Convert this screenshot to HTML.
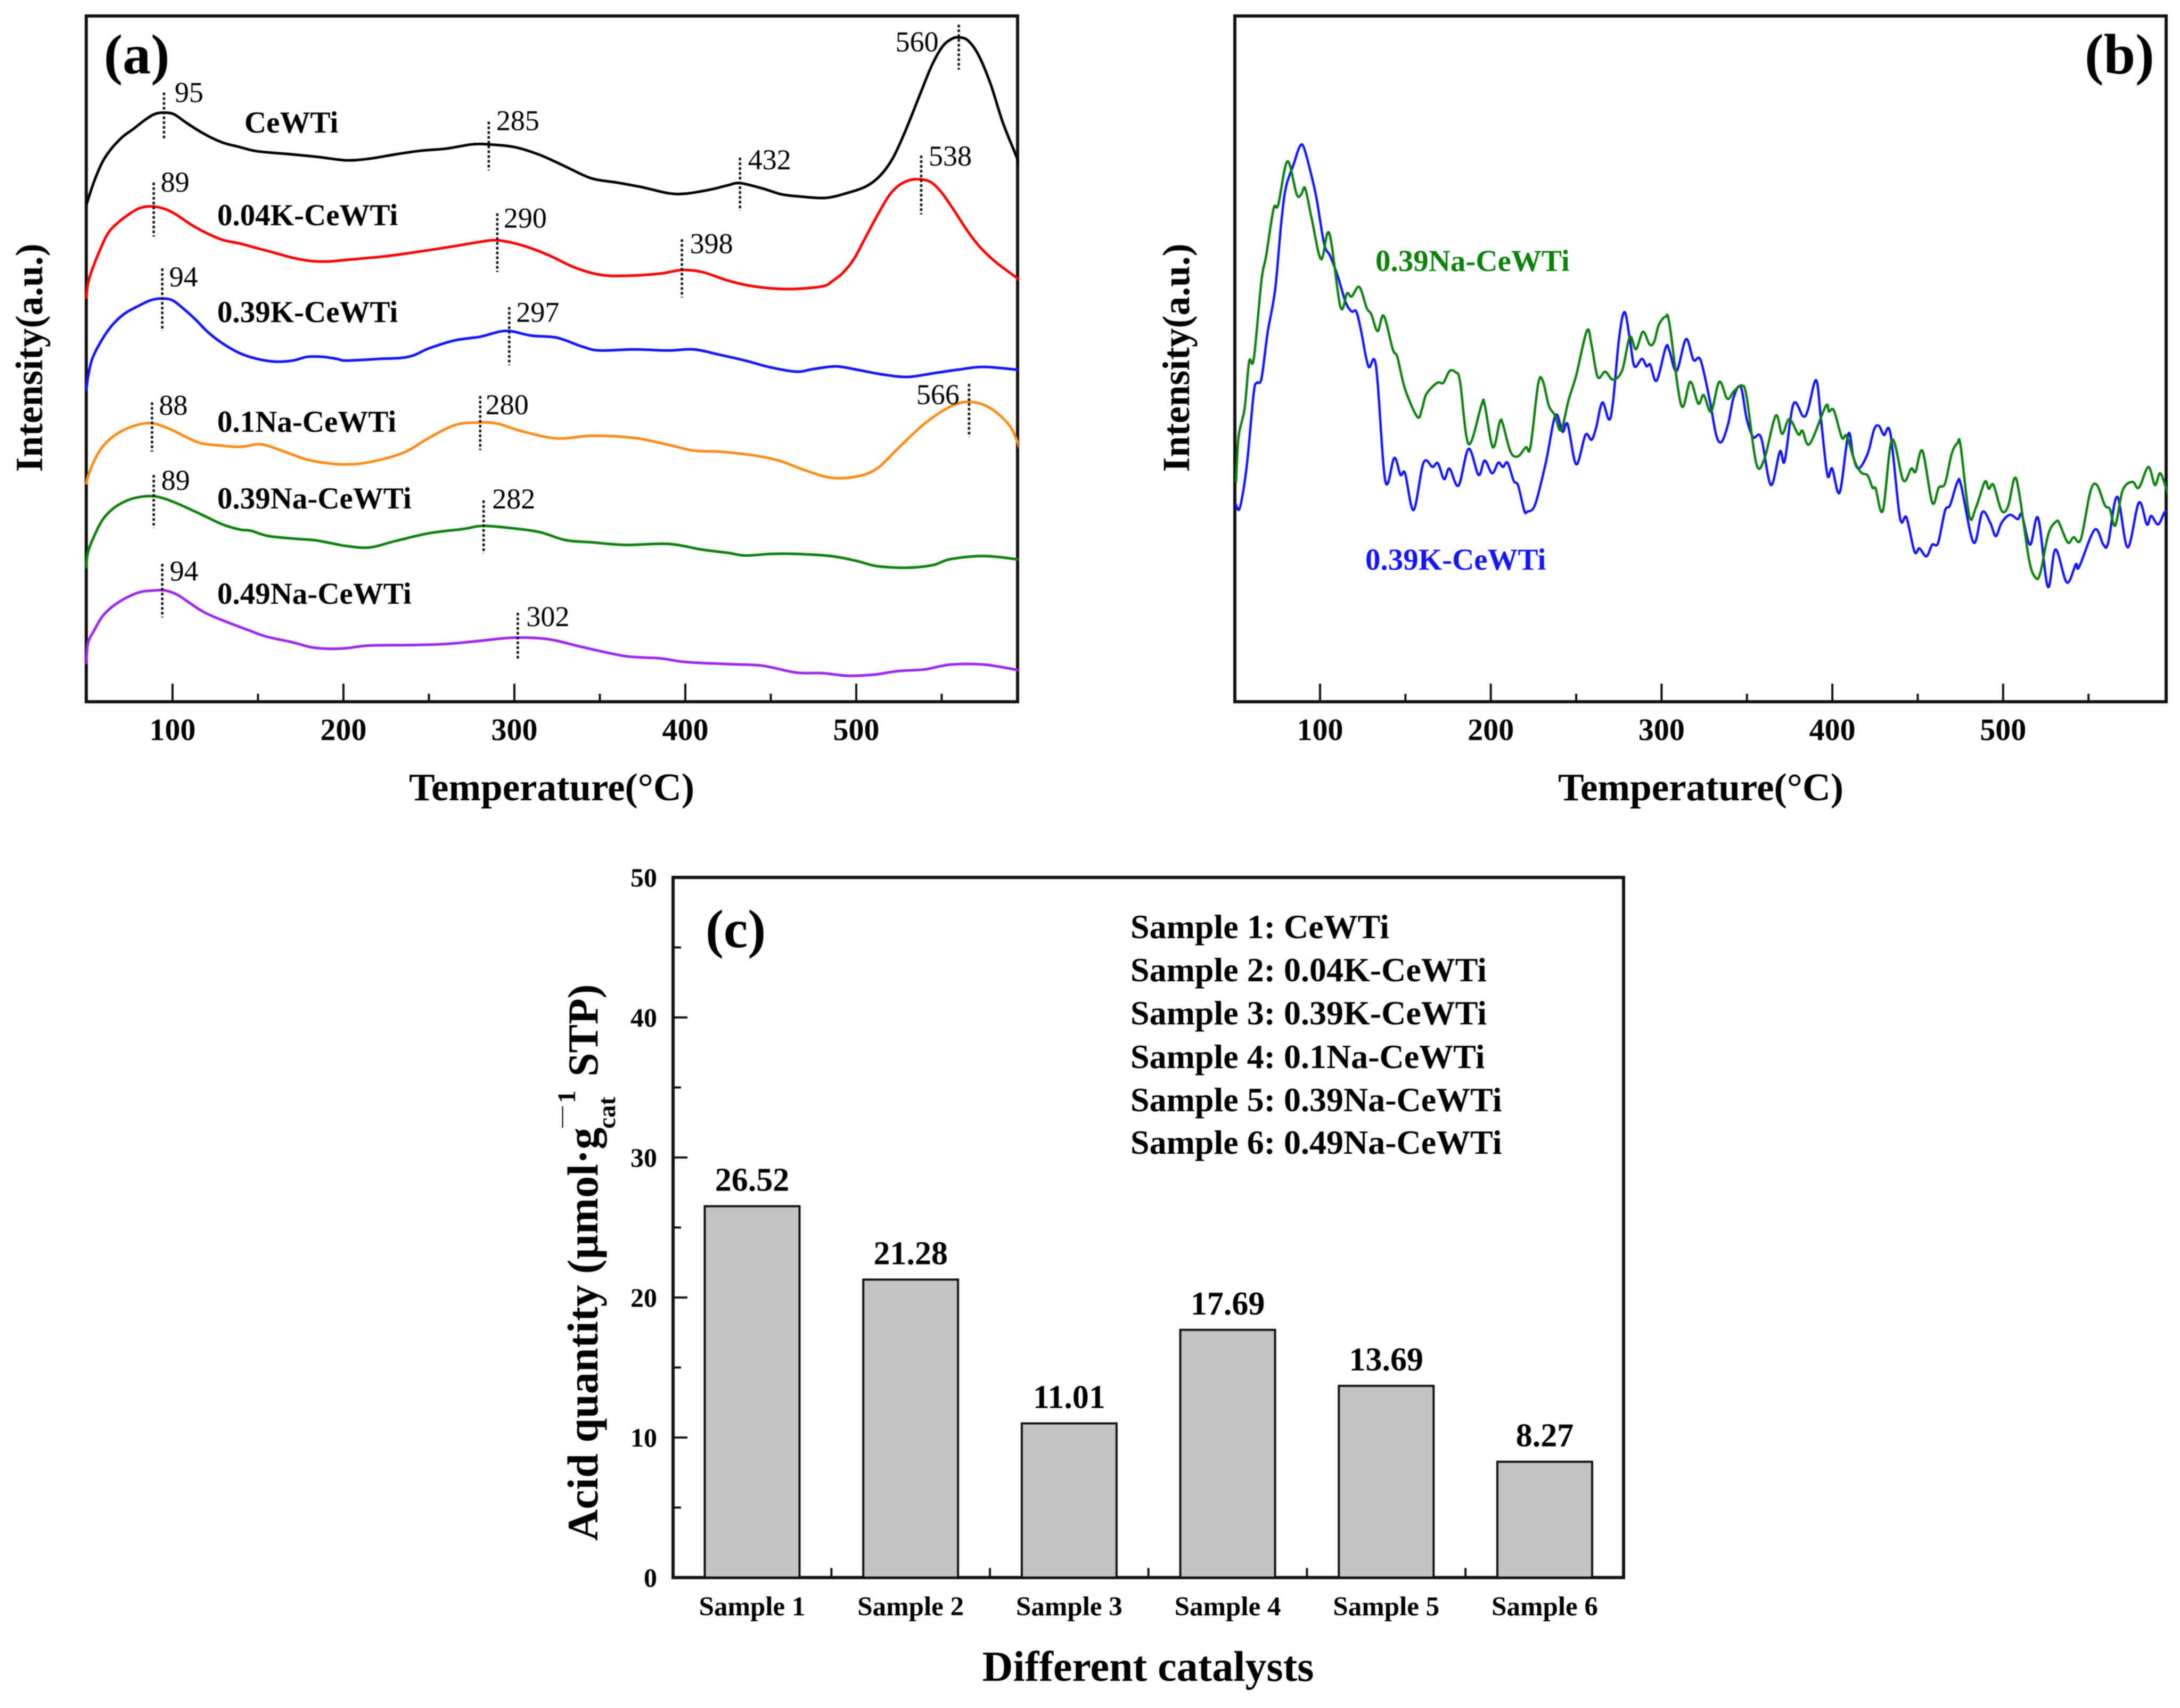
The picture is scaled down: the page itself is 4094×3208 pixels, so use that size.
<!DOCTYPE html>
<html lang="en">
<head>
<meta charset="utf-8">
<title>TPD spectra and acid quantity</title>
<style>
html,body{margin:0;padding:0;background:#fff;width:4094px;height:3208px;overflow:hidden}
svg{display:block;filter:blur(0.9px)}
text{font-family:"Liberation Serif",serif;fill:#000}
.b{font-weight:700}
</style>
</head>
<body>
<svg id="fig" xmlns="http://www.w3.org/2000/svg" width="4094" height="3208" viewBox="0 0 4094 3208">
<defs>
<clipPath id="clipA"><rect x="160" y="30" width="1753" height="1288"/></clipPath>
<clipPath id="clipB"><rect x="2317" y="30" width="1753" height="1288"/></clipPath>
</defs>
<rect x="0" y="0" width="4094" height="3208" fill="#fff"/>
<rect x="162" y="30" width="1749" height="1288" fill="none" stroke="#111" stroke-width="6"/>
<rect x="2319" y="30" width="1749" height="1288" fill="none" stroke="#111" stroke-width="6"/>
<rect x="1264" y="1648" width="1785" height="1315" fill="none" stroke="#111" stroke-width="6"/>

<g id="panelA"></g>
<g id="panelB"></g>
<g id="panelC"></g>

<text class="b" x="195" y="138" font-size="106">(a)</text>
<text class="b" x="3915" y="138" font-size="107">(b)</text>
<text class="b" x="1325" y="1779" font-size="102">(c)</text>

<text class="b" font-size="71.5" text-anchor="middle" transform="translate(79,672) rotate(-90)">Intensity(a.u.)</text>
<text class="b" font-size="73" text-anchor="middle" x="1036" y="1503">Temperature(°C)</text>
<text class="b" font-size="71.5" text-anchor="middle" transform="translate(2233,672) rotate(-90)">Intensity(a.u.)</text>
<text class="b" font-size="73" text-anchor="middle" x="3194" y="1503">Temperature(°C)</text>

<text class="b" font-size="57" x="459" y="249">CeWTi</text>
<text class="b" font-size="57" x="408" y="423">0.04K-CeWTi</text>
<text class="b" font-size="57" x="408" y="605">0.39K-CeWTi</text>
<text class="b" font-size="57" x="408" y="811">0.1Na-CeWTi</text>
<text class="b" font-size="57" x="408" y="955">0.39Na-CeWTi</text>
<text class="b" font-size="57" x="408" y="1134">0.49Na-CeWTi</text>

<text class="b" font-size="57" x="2583" y="509" style="fill:#0b800b">0.39Na-CeWTi</text>
<text class="b" font-size="57" x="2564" y="1070" style="fill:#1414f5">0.39K-CeWTi</text>

<g>
<text class="b" font-size="82" transform="translate(1122,2894) rotate(-90)">Acid quantity (µmol·g</text>
<text class="b" font-size="47" transform="translate(1155,2120) rotate(-90)">cat</text>
<text font-size="40" transform="translate(1066,2118) rotate(-90)">—</text>
<text class="b" font-size="48" transform="translate(1080,2072) rotate(-90)">1</text>
<text class="b" font-size="80" transform="translate(1122,2022) rotate(-90)">STP)</text>
</g>
<text class="b" font-size="80" text-anchor="middle" x="2156" y="3157">Different catalysts</text>

<g>
<text class="b" font-size="64" x="2123" y="1762">Sample 1: CeWTi</text>
<text class="b" font-size="64" x="2123" y="1843">Sample 2: 0.04K-CeWTi</text>
<text class="b" font-size="64" x="2123" y="1924">Sample 3: 0.39K-CeWTi</text>
<text class="b" font-size="64" x="2123" y="2006">Sample 4: 0.1Na-CeWTi</text>
<text class="b" font-size="64" x="2123" y="2087">Sample 5: 0.39Na-CeWTi</text>
<text class="b" font-size="64" x="2123" y="2167">Sample 6: 0.49Na-CeWTi</text>
</g>
</svg>

<script>
// ---------- Panel (a) data ----------
const cewtiTemp = [49.8,50.5,54.1,59.2,64.5,70.7,77,84.2,89.4,94.6,100.8,108,118.4,128.9,139.3,149.7,170.4,186,201.6,215,230,245,260,275,285,300,315,330,345,360,375,390,400,415,425,432,445,456,466,482,494.4,505.9,514,521.4,528.7,537,544.2,550.5,555.8,559.5,565,571.3,578.5,585.8,593.6,597];
const cewtiSignal = [939,947,982,1020,1045,1066,1081,1099,1109,1112,1109,1093,1072,1056,1047,1039,1033,1028,1022,1025,1033,1040,1044,1052,1052,1047,1032,1010,988,980,971,960,959,967,975,979,969,958,954,951,960,973,993,1026,1077,1144,1201,1237,1251,1254,1249,1222,1167,1093,1030,1000];
const k004Temp = [49.5,50.5,53,57.3,62.4,68.7,74.9,81,88.4,95.6,101.9,110.2,118.4,129,139.3,149.7,160,170.4,180.8,191.2,201.6,225,245,265,280,290,305,320,335,350,365,385,398,410,425,440,460,480,486,492,498.5,504.7,512,519.3,525.5,531.8,537.5,543.5,549.5,556.7,565,573.3,581.6,588.9,594,597];
const k004Signal = [761,789,816,851,885,906,921,932,935,930,920,902,887,872,865,856,847,838,832,831,834,841,850,860,868,871,861,843,820,806,804,808,815,811,795,784,779,784,794,809,835,872,916,956,976,985,986,981,963,930,889,855,830,812,800,790];
const k039Temp = [49.5,50.5,53,58.3,64.5,71.7,80,87.4,93.5,99.8,106,113.3,120.6,129,139.3,149.7,160,170.4,178.8,188.2,196.4,201.6,220,238,250,265,280,295,310,325,340,350,370,390,405,420,435,450,465,475,488,500,515,530,545,560,575,596];
const k039Signal = [586,612,647,681,710,732,747,758,761,758,743,722,698,677,658,647,642,644,651,651,647,644,647,651,667,682,689,700,691,687,670,663,665,663,665,655,644,631,623,628,633,627,618,613,620,627,632,626];
const na01Temp = [49.5,50.5,54.2,59.2,65.4,72.8,80,87.4,93.5,100.9,109,116.5,126.8,139.3,149.7,155.8,166.4,178.8,191.2,201.6,215,235,250,265,278,290,305,325,345,370,390,405,420,440,455,470,485,500,512,525,540,555,566,578,590,596];
const na01Signal = [410,425,455,482,501,515,523,526,521,511,498,488,484,481,486,483,471,457,450,448,452,470,498,522,527,525,510,497,502,498,485,474,472,465,455,437,423,425,440,480,525,557,566,555,520,475];
const na039Temp = [49.5,50.5,54.2,59.2,65.4,72.8,80,88.4,95.6,105,116.5,129,139.3,145.5,155.8,170.4,182.9,193.2,201.6,215,230,250,270,282,300,315,330,345,365,390,410,425,435,450,465,485,500,512,530,545,555,575,596];
const na039Signal = [252,282,313,344,365,379,386,388,383,371,354,335,325,323,313,308,305,299,294,291,303,318,326,332,327,320,305,301,296,298,287,281,276,279,279,275,266,256,253,258,269,275,268];
const na049Temp = [49.5,50.5,54.2,59.2,65.4,72.8,81,89.4,95.6,102.8,110.2,118.4,129,144.5,154.8,170.4,180.8,191.2,201.6,215,240,260,280,300,320,340,365,385,400,425,445,465,480,495,510,525,540,555,575,596];
const na049Signal = [71,110,135,162,181,196,207,210,210,202,186,169,154,135,123,112,103,100,101,106,107,109,115,121,118,103,86,82,75,71,68,55,54,49,51,58,61,70,70,59];

const peakTemps = [95,285,432,560,89,290,398,538,94,297,88,280,566,89,282,94,302];
const peakHigh = [1150,1095,1027,1278,980,922,873,1031,818,745,565,577,600,428,380,260,168];
const peakLow = [1060,1003,927,1193,878,811,763,920,700,635,472,475,500,328,280,159,80];

// ---------- Panel (b) data ----------
const greenTemp = [50.8,52.3,55.8,58.5,61.2,65.7,68.4,72.8,75.5,80.9,86.3,89,91.3,95.2,100.6,105.4,111.9,115.8,118.5,123,127.4,130,133.7,137.3,142.6,145.3,149.8,157,159.7,162.3,168.6,172.2,175.8,179.3,182,187,194.6,196.4,201.2,205.3,207.1,211.6,216,220.5,223.2,227.7,230.4,234,237.5,241.1,245.6,250,256.3,259,262.6,267,271.5,276.9,281.4,285,289.1,293,295.7,298.4,302.3,304.6,311.5,316.8,321.5,324.7,329,333.8,338.5,342.3,347,349.8,355.5,360.2,366.8,370.6,374.8,380.1,382.5,386.7,396.1,398,400.9,405.6,408.4,413.2,417,420.7,423.5,425.4,429.6,434.9,441.5,446.2,448.7,452.8,458.5,462.3,466,469.9,473.3,475.1,480.2,484,489.3,491.6,494.4,499.1,502.9,506.7,509.5,515.2,519,521.8,526.6,531.3,533.2,537.9,541.3,545.5,551.1,554.9,559.6,562.5,565.7,570,575.7,579.5,585.1,588.9,592.1,596.5];
const greenSignal = [412,498,550,639,644,791,837,926,933,1015,953,953,964,906,831,880,742,767,761,779,739,728,696,725,662,647,587,535,550,578,599,599,621,619,601,484,558,558,478,526,521,469,461,478,478,596,603,556,538,510,567,613,697,670,610,620,605,622,685,662,695,671,676,708,723,710,557,601,560,576,545,601,569,583,594,573,447,456,537,503,531,502,509,484,555,545,547,496,499,451,430,425,402,400,359,492,416,438,432,471,374,402,410,466,486,481,349,364,413,400,407,359,367,420,390,267,233,242,316,339,333,299,309,305,395,407,369,362,331,397,413,402,441,407,429,390];
const blueTemp = [50.5,52.6,55,57.6,61.2,63,65.7,69.3,73.7,77.3,80,84.5,88,90.4,94.3,97.9,102.4,106,110.4,114.9,118.5,121.2,123.9,128.3,132.8,138.2,143.5,147.1,149.8,154.8,160.6,165.9,169,172.7,175.8,181.1,187,192.8,196.4,200.8,204.4,207.1,209.8,213.4,216,219.6,221.4,225.9,232.2,237.9,242,245,250,255.4,259,261.7,265.3,269.2,271.5,275.1,278.3,281.4,284.1,288.5,291.2,293.4,297.1,302.5,304.6,308.8,314.3,318.7,322.8,328.1,331.9,335.1,339,342.3,346.4,349.8,353.6,358.3,364,369.3,372.1,377.2,382.9,385.7,390.5,393.3,397.1,399.9,404.3,409.4,412.2,415.4,420.7,424.5,427.3,430.2,434,439.6,443.4,448.1,451,455.1,458.5,461.9,466,468.9,473.3,475.5,482.7,487.8,492.5,495.7,499.1,503.9,508.6,511,515.8,520.5,526.2,530.7,537.3,542.6,544.5,553.6,558.7,561.5,566.8,572.9,579.5,584.2,586.7,590.8,594.6,596.9];
const blueSignal = [372,361,395,458,581,599,607,693,774,900,966,1009,1042,1042,997,946,860,837,799,751,733,733,699,630,630,415,458,426,429,360,449,441,448,418,438,406,475,426,453,429,449,441,449,415,406,359,357,370,449,538,507,521,446,501,492,515,562,530,561,682,732,682,630,644,630,633,603,666,659,621,681,642,642,568,502,488,522,573,591,532,497,496,407,470,452,559,536,548,604,532,426,438,393,503,461,438,466,512,518,501,504,346,346,282,288,273,295,298,359,369,413,405,299,356,336,311,336,351,343,351,295,345,216,286,224,258,253,323,295,298,385,290,374,333,349,333,356,356];

// ---------- Panel (c) data ----------
const sampleNames = ['Sample 1','Sample 2','Sample 3','Sample 4','Sample 5','Sample 6'];
const acidValues = [26.52,21.28,11.01,17.69,13.69,8.27];
const acidLabels = ['26.52','21.28','11.01','17.69','13.69','8.27'];

// ---------- Axis tick labels ----------
const tempMajor = [100,200,300,400,500];
const tempMinor = [150,250,350,450,550];
const acidMajor = [0,10,20,30,40,50];
const acidMinor = [5,15,25,35,45];

// ---------- Axis functions ----------
function xA(t){ return 324 + (t - 100) * 3.21; }
function yA(v){ return 1318 - v / 1.005; }
function xB(t){ return 2479 + (t - 100) * 3.207; }
function yB(v){ return 1318 - v; }
function xC(i){ return 1412.5 + i * 297.7; }
function yC(v){ return 2963 - v * 26.3; }

const NS = 'http://www.w3.org/2000/svg';
const panelA = document.getElementById('panelA');
const panelB = document.getElementById('panelB');
const panelC = document.getElementById('panelC');

function mk(tag, parent){
  const el = document.createElementNS(NS, tag);
  parent.appendChild(el);
  return el;
}
function smoothPath(xs, ys){
  let d = 'M' + xs[0].toFixed(1) + ' ' + ys[0].toFixed(1);
  for (let i = 0; i < xs.length - 1; i++) {
    const p0 = Math.max(i - 1, 0), p3 = Math.min(i + 2, xs.length - 1);
    const c1x = xs[i] + (xs[i + 1] - xs[p0]) / 6, c1y = ys[i] + (ys[i + 1] - ys[p0]) / 6;
    const c2x = xs[i + 1] - (xs[p3] - xs[i]) / 6, c2y = ys[i + 1] - (ys[p3] - ys[i]) / 6;
    d += 'C' + c1x.toFixed(1) + ' ' + c1y.toFixed(1) + ' ' + c2x.toFixed(1) + ' ' + c2y.toFixed(1) + ' ' + xs[i + 1].toFixed(1) + ' ' + ys[i + 1].toFixed(1);
  }
  return d;
}
function drawCurve(parent, temps, vals, fx, fy, color, width, clip){
  const p = mk('path', parent);
  p.setAttribute('d', smoothPath(temps.map(fx), vals.map(fy)));
  p.setAttribute('fill', 'none');
  p.setAttribute('stroke', color);
  p.setAttribute('stroke-width', width);
  p.setAttribute('stroke-linejoin', 'round');
  p.setAttribute('clip-path', 'url(#' + clip + ')');
  return p;
}
function line(parent, x1, y1, x2, y2, w){
  const l = mk('line', parent);
  l.setAttribute('x1', x1);
  l.setAttribute('y1', y1);
  l.setAttribute('x2', x2);
  l.setAttribute('y2', y2);
  l.setAttribute('stroke', '#111');
  l.setAttribute('stroke-width', w);
  return l;
}
function txt(parent, x, y, s, size, anchor, bold){
  const t = mk('text', parent);
  t.setAttribute('x', x);
  t.setAttribute('y', y);
  t.setAttribute('font-size', size);
  t.setAttribute('text-anchor', anchor);
  if (bold) t.setAttribute('class', 'b');
  t.textContent = s;
  return t;
}

// ---------- Panel (a) curves ----------
let c;
c = drawCurve(panelA, cewtiTemp, cewtiSignal, xA, yA, '#000000', 5, 'clipA');


c = drawCurve(panelA, k004Temp, k004Signal, xA, yA, '#ff0000', 5, 'clipA');


c = drawCurve(panelA, k039Temp, k039Signal, xA, yA, '#1414ff', 5, 'clipA');


c = drawCurve(panelA, na01Temp, na01Signal, xA, yA, '#ff8c1a', 5, 'clipA');


c = drawCurve(panelA, na039Temp, na039Signal, xA, yA, '#0f800f', 5, 'clipA');


c = drawCurve(panelA, na049Temp, na049Signal, xA, yA, '#9a28f0', 5, 'clipA');



// Peak markers: label placement offsets (layout only)
const peakLabelDx = [20,14,15,-38,13,12,15,14,13,13,13,10,-18,14,16,14,16];
const peakLabelDy = [18,16,22,50,17,27,26,19,34,28,23,34,38,28,15,31,25];
peakTemps.forEach(function(t, i){
  const m = line(panelA, xA(t), yA(peakHigh[i]), xA(t), yA(peakLow[i]), 4.5);
  m.setAttribute('stroke-dasharray', '5 4');
  
  
  const dx = peakLabelDx[i];
  const lab = txt(panelA, xA(t) + dx, yA(peakHigh[i]) + peakLabelDy[i], String(t), 54, dx < 0 ? 'end' : 'start', false);
  
  
});

// ---------- Panel (b) curves ----------
c = drawCurve(panelB, blueTemp, blueSignal, xB, yB, '#1414ff', 4.5, 'clipB');


c = drawCurve(panelB, greenTemp, greenSignal, xB, yB, '#0f800f', 4.5, 'clipB');



// ---------- Temperature ticks ----------
function tempAxis(parent, fx){
  tempMajor.forEach(function(t){
    const k = line(parent, fx(t), 1318, fx(t), 1284, 4);
    
    
    const lab = txt(parent, fx(t), 1390, String(t), 58, 'middle', true);
    
    
  });
  tempMinor.forEach(function(t){
    const k = line(parent, fx(t), 1318, fx(t), 1303, 4);
    
    
  });
}
tempAxis(panelA, xA);
tempAxis(panelB, xB);

// ---------- Panel (c) bars ----------
acidValues.forEach(function(v, i){
  const r = mk('rect', panelC);
  r.setAttribute('x', xC(i) - 89);
  r.setAttribute('y', yC(v));
  r.setAttribute('width', 178);
  r.setAttribute('height', yC(0) - yC(v));
  r.setAttribute('fill', '#c4c4c4');
  r.setAttribute('stroke', '#111');
  r.setAttribute('stroke-width', 4);
  
  
  const vl = txt(panelC, xC(i), yC(v) - 29, acidLabels[i], 62, 'middle', true);
  
  
  const cl = txt(panelC, xC(i), 3034, sampleNames[i], 51, 'middle', true);
  
  
  if (i < acidValues.length - 1) {
    const k = line(panelC, xC(i) + 148.85, 2963, xC(i) + 148.85, 2945, 4);
    
    
  }
});
acidMajor.forEach(function(v){
  const k = line(panelC, 1264, yC(v), 1291, yC(v), 4);
  
  
  const lab = txt(panelC, 1234, yC(v) + 17, String(v), 50, 'end', true);
  
  
});
acidMinor.forEach(function(v){
  const k = line(panelC, 1264, yC(v), 1279, yC(v), 4);
  
  
});
</script>
</body>
</html>
